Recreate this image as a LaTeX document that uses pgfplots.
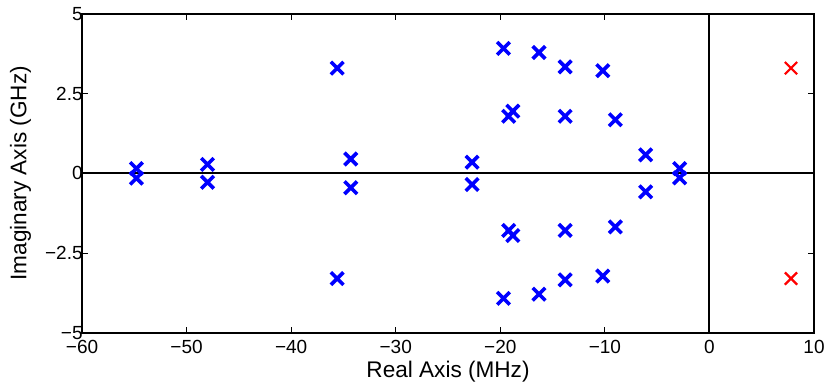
\documentclass[border=0pt]{standalone}
\usepackage{fontspec}
\setmainfont{Liberation Sans}
\usepackage{pgfplots}
\pgfplotsset{compat=1.18}
\begin{document}
\begin{tikzpicture}
\begin{axis}[
  scale only axis,
  width=551pt, height=240pt,
  xmin=-60, xmax=10, ymin=-5, ymax=5,
  xtick={-60,-50,-40,-30,-20,-10,0,10},
  xticklabels={−60,−50,−40,−30,−20,−10,0,10},
  ytick={-5,-2.5,0,2.5,5},
  yticklabels={−5,−2.5,0,2.5,5},
  tick align=inside,
  major tick length=4.5pt,
  tick style={black, line width=0.8pt},
  axis line style={line width=1.4pt},
  tick label style={font=\fontsize{14.3}{16}\selectfont},
  label style={font=\fontsize{17}{19}\selectfont},
  xticklabel style={yshift=-2pt},
  yticklabel style={xshift=4pt, inner ysep=5.5pt},
  xlabel={Real Axis (MHz)},
  ylabel={Imaginary Axis (GHz)},
  xlabel style={inner ysep=2pt, yshift=-0.4pt},
  ylabel style={inner ysep=7.5pt, yshift=-0.4pt},
  clip=false,
]
\addplot[black, line width=1.5pt, forget plot] coordinates {(-60,0) (10,0)};
\addplot[black, line width=1.5pt, forget plot] coordinates {(0,-5) (0,5)};
\addplot[only marks, mark=x, blue, mark size=6.7pt, line width=2.7pt] coordinates {
(-54.8,0.15) (-54.8,-0.15)
(-48.0,0.28) (-48.0,-0.28)
(-35.6,3.30) (-35.6,-3.30)
(-34.3,0.45) (-34.3,-0.45)
(-22.7,0.35) (-22.7,-0.35)
(-19.7,3.92) (-19.7,-3.92)
(-16.3,3.79) (-16.3,-3.79)
(-13.8,3.34) (-13.8,-3.34)
(-10.2,3.22) (-10.2,-3.22)
(-19.2,1.79) (-19.2,-1.79)
(-18.8,1.95) (-18.8,-1.95)
(-13.8,1.79) (-13.8,-1.79)
(-9.0,1.68) (-9.0,-1.68)
(-6.1,0.58) (-6.1,-0.58)
(-2.85,0.15) (-2.85,-0.14)
};
\addplot[only marks, mark=x, red, mark size=6.5pt, line width=1.7pt] coordinates {
(7.8,3.30) (7.8,-3.30)
};
\end{axis}
\end{tikzpicture}
\end{document}
